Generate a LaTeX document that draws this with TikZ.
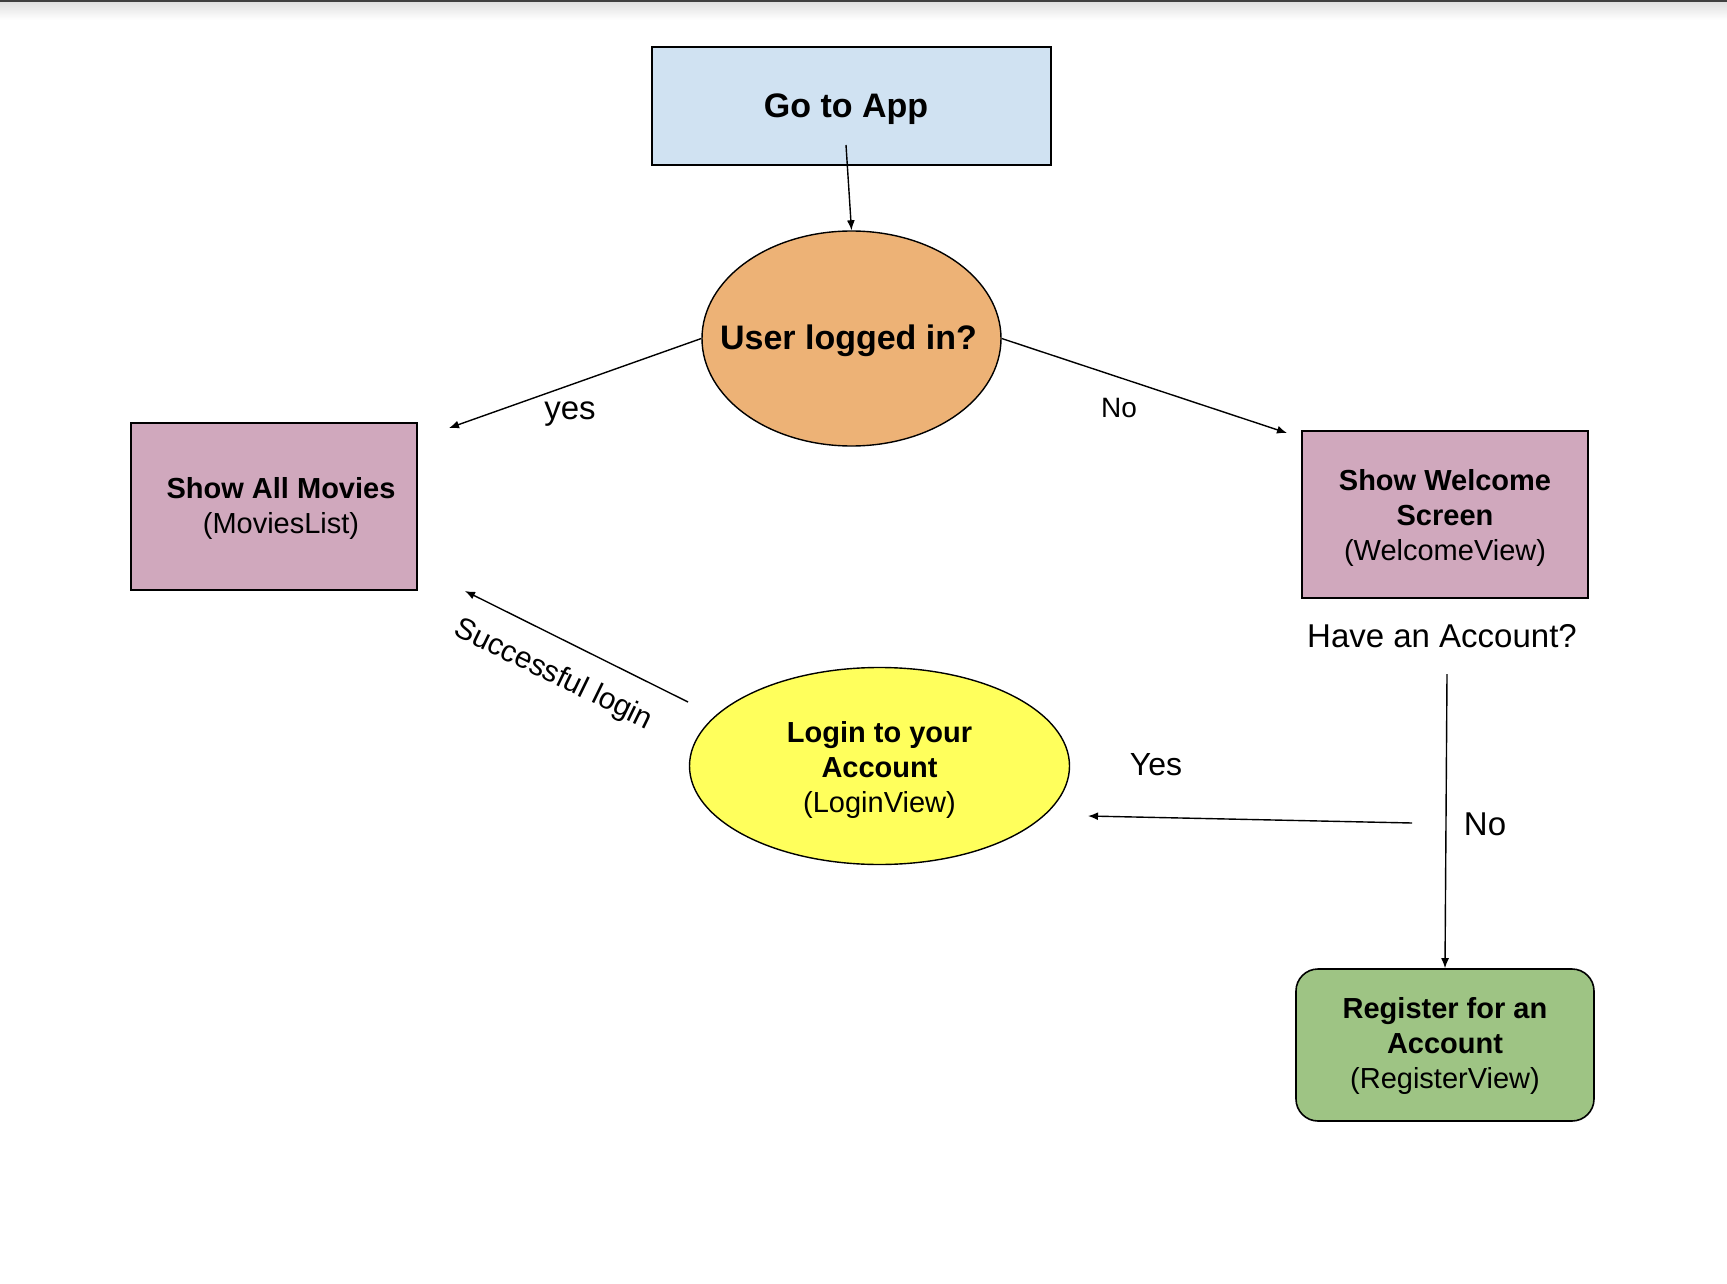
\documentclass[tikz,border=0pt]{standalone}
\usepackage{fontspec}
\setmainfont{Liberation Sans}
\usetikzlibrary{shapes.geometric,arrows.meta}
\definecolor{goblue}{HTML}{D0E2F2}
\definecolor{userorange}{HTML}{EDB276}
\definecolor{viewpink}{HTML}{D0A8BD}
\definecolor{loginyellow}{HTML}{FFFF5C}
\definecolor{reggreen}{HTML}{9EC484}
\newcommand{\nodetxt}[2]{\raisebox{-#1}[\height][\depth]{\begin{tabular}{@{}c@{}}#2\end{tabular}}}
\newcommand{\zerotxt}[2]{\raisebox{-#1}[\height][\depth]{\makebox[0pt][c]{#2}}}
\tikzset{
  x=1pt, y=-1pt,
  boxtext/.style={font=\fontsize{29}{35}\selectfont, align=center, text=black},
  rectbox/.style={draw=black, line width=1.6pt, inner sep=0pt, boxtext},
  ellbox/.style={ellipse, draw=black, line width=1.4pt, inner sep=0pt, boxtext},
  arr/.style={draw=black, line width=1.4pt, -{Latex[length=10pt,width=8pt]}},
  lbl/.style={font=\fontsize{33}{38}\selectfont, text=black, inner sep=0pt}
}
\begin{document}
\begin{tikzpicture}
\useasboundingbox (0,0) rectangle (1727,1284);
\fill[white] (0,0) rectangle (1727,1284);
% top screenshot edge
\shade[top color=black!12, bottom color=white] (0,2) rectangle (1727,20);
\fill[black!75] (0,0) rectangle (1727,2.5);

\node[rectbox, fill=goblue, minimum width=399pt, minimum height=118pt,
      font=\fontsize{34}{40}\selectfont\bfseries] (go) at (851.5,106)
      {\zerotxt{3.5pt}{\hspace*{-11pt}Go to App}};
\node[ellbox, fill=userorange, minimum width=299pt, minimum height=215pt,
      font=\fontsize{34}{40}\selectfont\bfseries] (user) at (851.5,338.5)
      {\zerotxt{2.5pt}{\hspace*{-6pt}User logged in?}};
\node[rectbox, fill=viewpink, minimum width=286pt, minimum height=167pt] (movies) at (274,506.5)
      {\nodetxt{2.5pt}{\hspace*{14pt}\textbf{Show All Movies}\\\hspace*{14pt}(MoviesList)}};
\node[rectbox, fill=viewpink, minimum width=286pt, minimum height=167pt] (welcome) at (1445,514.5)
      {\nodetxt{4pt}{\textbf{Show Welcome}\\\textbf{Screen}\\(WelcomeView)}};
\node[ellbox, fill=loginyellow, minimum width=380pt, minimum height=197pt] (login) at (879.5,766)
      {\nodetxt{4.5pt}{\textbf{Login to your}\\\textbf{Account}\\(LoginView)}};
\node[rectbox, fill=reggreen, rounded corners=22pt, minimum width=298pt, minimum height=152pt] (register) at (1445,1045)
      {\nodetxt{1.5pt}{\textbf{Register for an}\\\textbf{Account}\\(RegisterView)}};

\node[lbl] (have) at (1442,636) {Have an Account?};

% free connector ends
\coordinate (goA) at (846,145);
\coordinate (yesEnd) at (449,428);
\coordinate (noEnd) at (1287,433);
\coordinate (haveA) at (1447,674);
\coordinate (yesA) at (1412,823);
\coordinate (yesB) at (1088,816);
\coordinate (succA) at (688,702);
\coordinate (succB) at (465,591);

\draw[arr] (goA) -- (user.north);
\draw[arr] (user.west) -- (yesEnd);
\draw[arr] (user.east) -- (noEnd);
\draw[arr] (haveA) -- (register.north);
\draw[arr] (yesA) -- (yesB);
\draw[arr] (succA) -- (succB);

\node[lbl] (lyes) at (570,414) {yes};
\node[lbl, font=\fontsize{28}{33}\selectfont] (lno1) at (1119,408) {No};
\node[lbl, font=\fontsize{32}{38}\selectfont] (lyes2) at (1156,765) {Yes};
\node[lbl] (lno2) at (1485,824) {No};
\node[lbl, font=\fontsize{30}{36}\selectfont, rotate=-26] (lsucc) at (553,675) {Successful login};
\end{tikzpicture}
\end{document}
